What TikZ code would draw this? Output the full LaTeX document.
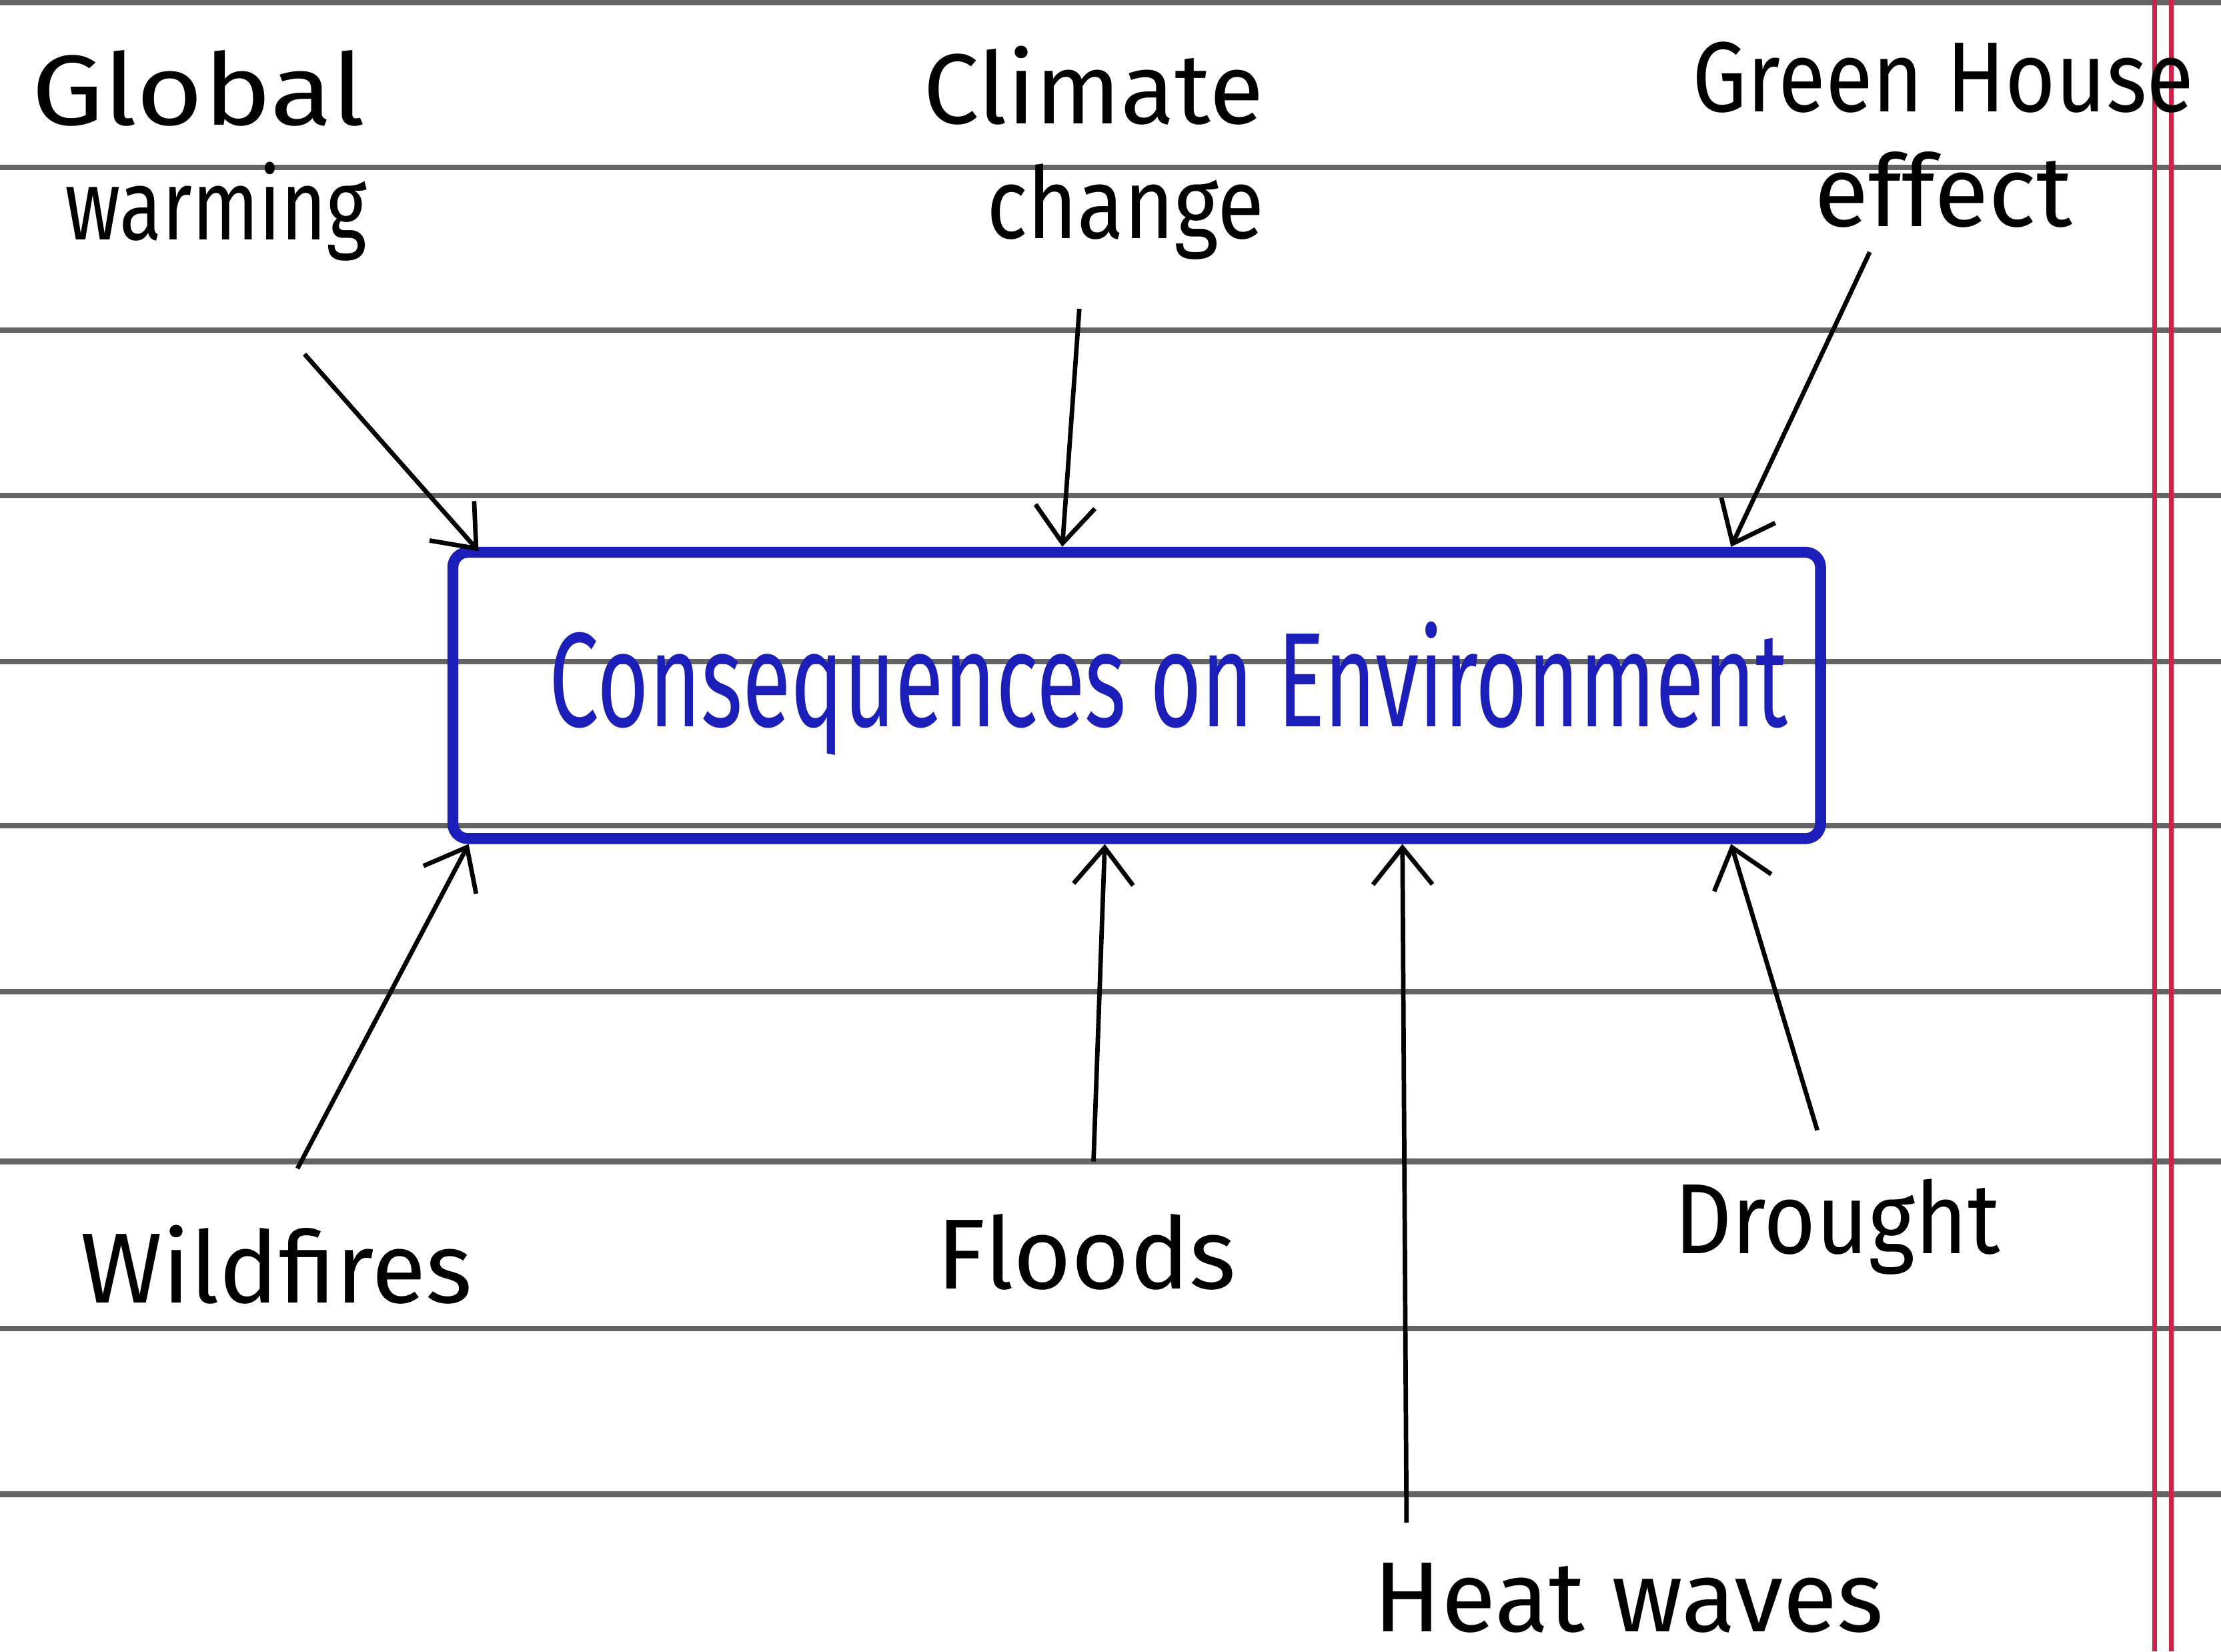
\documentclass[tikz,border=0pt]{standalone}
\usepackage{fontspec}
\setmainfont{Fira Sans}
\usetikzlibrary{arrows.meta}
\definecolor{inkblue}{RGB}{28,30,185}
\definecolor{ruleg}{RGB}{100,100,100}
\definecolor{marginred}{RGB}{205,35,75}
\begin{document}
\begin{tikzpicture}[x=0.01cm,y=-0.01cm,
  ruleline/.style={ruleg,line width=1.1pt},
  marginline/.style={marginred,line width=0.9pt},
  lbl/.style={font=\fontsize{20}{23}\selectfont,align=center,inner sep=0pt},
  arr/.style={line width=0.9pt,-{Straight Barb[length=2.6mm,width=4.2mm]}},
  mainbox/.style={draw=inkblue,line width=2.2pt,rounded corners=3pt,minimum width=9.65cm,minimum height=2.02cm,inner sep=0pt}]
\useasboundingbox (0,0) rectangle (1568,1166);
\fill[white] (0,0) rectangle (1568,1166);
\foreach \y in {2,118,233,350,467,583,700,820,938,1055}
  \draw[ruleline] (0,\y) -- (1568,\y);
\draw[marginline] (1521,0) -- (1521,1166);
\draw[marginline] (1533,0) -- (1533,1166);

\node[mainbox] (box) at (802.5,491) {};
\node[text=inkblue,font=\fontsize{27}{30}\selectfont,inner sep=0pt] (boxtxt) at (825,486) {\scalebox{0.66}[1]{Consequences on Environment}};

\node[lbl] (gw) at (140,110) {\scalebox{1.15}[1]{Global}\\\hspace*{0.25cm}\scalebox{0.78}[1]{warming}};
\node[lbl] (cc) at (772,108) {Climate\\\hspace*{0.45cm}\scalebox{0.86}[1]{change}};
\node[lbl] (gh) at (1372,95) {\scalebox{0.87}[1]{Green House}\\effect};
\node[lbl] (wf) at (195,893) {Wildfires};
\node[lbl] (fl) at (767,884) {Floods};
\node[lbl] (dr) at (1297,866) {\scalebox{0.9}[1]{Drought}};
\node[lbl] (hw) at (1150,1128) {Heat waves};

\coordinate (gws) at (215,250);
\coordinate (ccs) at (762,218);
\coordinate (ghs) at (1320,178);
\coordinate (wfs) at (210,825);
\coordinate (fls) at (772,820);
\coordinate (hws) at (993,1075);
\coordinate (drs) at (1283,798);

\draw[arr] (gws) -- ([xshift=0.22cm,yshift=-0.03cm]box.north west);
\draw[arr] (ccs) -- ([xshift=-0.525cm]box.north);
\draw[arr] (ghs) -- ([xshift=-0.67cm]box.north east);
\draw[arr] (wfs) -- ([xshift=0.15cm]box.south west);
\draw[arr] (fls) -- ([xshift=-0.225cm]box.south);
\draw[arr] (hws) -- ([xshift=1.875cm]box.south);
\draw[arr] (drs) -- ([xshift=-0.67cm]box.south east);
\end{tikzpicture}
\end{document}
